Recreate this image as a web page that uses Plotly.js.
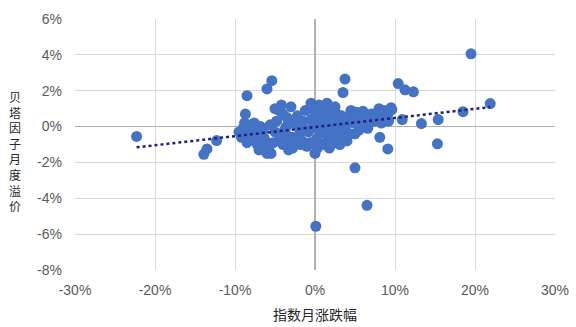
<!DOCTYPE html>
<html>
<head>
<meta charset="utf-8">
<script src="https://cdn.plot.ly/plotly-3.0.1.min.js"></script>
<style>html,body{margin:0;padding:0;background:#fff;}#chart{width:576px;height:327px;}</style>
</head>
<body>
<div id="chart"></div>
<script>
// index monthly change (%) and beta factor monthly premium (%)
const indexChange = [
  -22.3, -13.5, -13.9, -12.3,
  -9.5, -9.0, -8.7, -8.5, -8.8, -8.2, -7.8, -7.5, -7.2, -6.9, -6.5, -6.2, -5.8, -5.5, -5.2,
  -6.0, -5.4, -5.0, -4.5, -4.0, -3.5, -5.0, -4.3, -3.8, -3.0, -2.5, -2.0, -1.5, -1.0, -0.8,
  -0.5, -0.2, 0.0, 0.2, 0.5, 0.8, 1.0, 1.3, 1.6, 2.0, 2.2, 2.5, 2.8, 3.0, 3.3, 3.75, 3.5,
  3.8, 4.2, 4.5, 5.0, 5.3, 5.8, 6.2, 6.6, 7.0, 7.4, 7.8, 8.2, 8.6, 9.1, 9.6, 4.0, 1.8, -1.8,
  -3.3, -6.5, -5.6, -4.8, -4.2, -3.0, -0.5, 0.5, 1.5, 2.5, 4.5, 6.0, 8.0, 9.5, 9.0,
  -2.8, -1.2, 0.3, 1.1, 2.6, -3.6, -6.8, -7.6,
  -9.2, -8.5, -8.0, -7.0, -6.0, -6.4, -5.6, -7.4,
  -4.0, -3.5, -2.8, -2.2, -1.6, -1.2, -0.6, 0.0, 0.3, 0.6, 1.0, 1.4, 1.9, 2.3, 2.7, 3.1,
  -0.3, -2.0, -3.2,
  3.6, 4.3, 4.8, 5.5, 6.0, 6.8, 7.5, 8.3, 9.2, 5.2, 3.5,
  10.4, 11.25, 12.3, 19.5, 21.9, 18.5, 15.4, 13.3, 10.9, 15.3, 9.1, 8.1, 5.0, 6.5, 0.1
];
const betaPremium = [
  -0.55, -1.25, -1.55, -0.78,
  -0.3, -0.1, 0.7, 1.72, 0.2, -0.5, -0.2, -0.7, -1.0, -0.4, -1.2, -0.8, -1.3, -1.5, -0.9,
  2.1, 2.56, 1.0, 0.9, 0.7, 0.5, -0.3, -0.6, -0.2, -0.9, 0.2, -0.5, 0.3, -1.1, -0.3,
  0.4, 1.0, -1.5, -0.7, 0.1, 0.8, -1.0, -0.4, 0.5, 0.9, -0.2, -0.9, 0.3, -0.5, 0.6, 2.65, 1.9,
  -0.2, 0.3, 0.8, -0.4, 0.5, 0.1, 0.6, -0.1, 0.7, 0.3, 0.8, 0.5, 0.9, 0.7, 0.95, -0.8, -1.2, -1.0,
  -1.3, -0.2, 0.1, 0.3, 1.2, 1.1, 1.3, 1.2, 1.3, 1.1, 0.9, 0.85, 1.0, 1.05, 0.5,
  -0.6, -0.2, 0.4, -0.1, 0.0, 0.0, 0.0, 0.2,
  -0.6, -0.9, 0.1, -1.3, -1.5, -0.6, -1.0, -0.3,
  -1.0, -0.5, -1.2, 0.6, -0.8, 0.9, -0.9, 0.6, -1.2, -0.3, 0.4, -0.9, 0.0, -0.6, 0.7, -1.0,
  0.0, -0.1, 0.2,
  0.2, -0.4, 0.2, -0.2, 0.3, 0.2, 0.5, 0.2, 0.3, 0.8, -0.7,
  2.4, 2.05, 1.94, 4.06, 1.28, 0.83, 0.39, 0.17, 0.39, -0.96, -1.25, -0.6, -2.3, -4.39, -5.56
];
const xTicks = [-30, -20, -10, 0, 10, 20, 30];
const yTicks = [-8, -6, -4, -2, 0, 2, 4, 6];
const yTitle = "贝塔因子月度溢价";
const xTitle = "指数月涨跌幅";

// least-squares linear trend computed from the data
const n = indexChange.length;
const mx = indexChange.reduce((a, b) => a + b, 0) / n;
const my = betaPremium.reduce((a, b) => a + b, 0) / n;
let sxy = 0, sxx = 0;
for (let i = 0; i < n; i++) {
  sxy += (indexChange[i] - mx) * (betaPremium[i] - my);
  sxx += (indexChange[i] - mx) * (indexChange[i] - mx);
}
const slope = sxy / sxx;
const icpt = my - slope * mx;
const xMin = Math.min(...indexChange), xMax = Math.max(...indexChange);
const trendX = [xMin, xMax];
const trendY = trendX.map(v => icpt + slope * v);

const tickFont = {family: "Liberation Sans, Arial, sans-serif", size: 14, color: "#595959"};
const cjkFont = {family: "Noto Sans CJK SC, sans-serif", size: 12, color: "#262626"};

const data = [
  {
    x: indexChange, y: betaPremium, type: "scatter", mode: "markers",
    marker: {color: "#4472C4", size: 11, line: {width: 0}},
    hoverinfo: "skip"
  },
  {
    x: trendX, y: trendY, type: "scatter", mode: "lines",
    line: {color: "#1F1F8A", width: 2.5, dash: "dot"},
    hoverinfo: "skip"
  }
];

const plotH = 327 - 19 - 57;

const layout = {
  width: 576, height: 327,
  margin: {l: 75, r: 21, t: 19, b: 57},
  paper_bgcolor: "#ffffff", plot_bgcolor: "#ffffff",
  showlegend: false,
  font: tickFont,
  xaxis: {
    range: [-30, 30], tickvals: xTicks, ticktext: xTicks.map(v => v + "%"),
    showgrid: true, gridcolor: "#d9d9d9", gridwidth: 1,
    zeroline: true, zerolinecolor: "#b0b0b0", zerolinewidth: 1.5,
    showline: false, ticks: "", ticklabelstandoff: 10, tickfont: tickFont,
    fixedrange: true
  },
  yaxis: {
    range: [-8, 6], tickvals: yTicks, ticktext: yTicks.map(v => v + "%"),
    showgrid: true, gridcolor: "#d9d9d9", gridwidth: 1,
    zeroline: true, zerolinecolor: "#b0b0b0", zerolinewidth: 1.5,
    showline: false, ticks: "", ticklabelstandoff: 12, tickfont: tickFont,
    fixedrange: true
  },
  annotations: [
    {
      text: yTitle.split("").join("<br>"), xref: "paper", yref: "paper",
      x: -0.124, y: (270 - 151) / plotH, xanchor: "center", yanchor: "middle",
      showarrow: false, font: cjkFont, align: "center", borderpad: 0
    },
    {
      text: xTitle, xref: "paper", yref: "paper",
      x: 0.5, y: -(314 - 270) / plotH, xanchor: "center", yanchor: "middle",
      showarrow: false, font: {family: "Noto Sans CJK SC, sans-serif", size: 14, color: "#262626"}
    }
  ]
};

Plotly.newPlot("chart", data, layout, {displayModeBar: false, staticPlot: true});
</script>
</body>
</html>
